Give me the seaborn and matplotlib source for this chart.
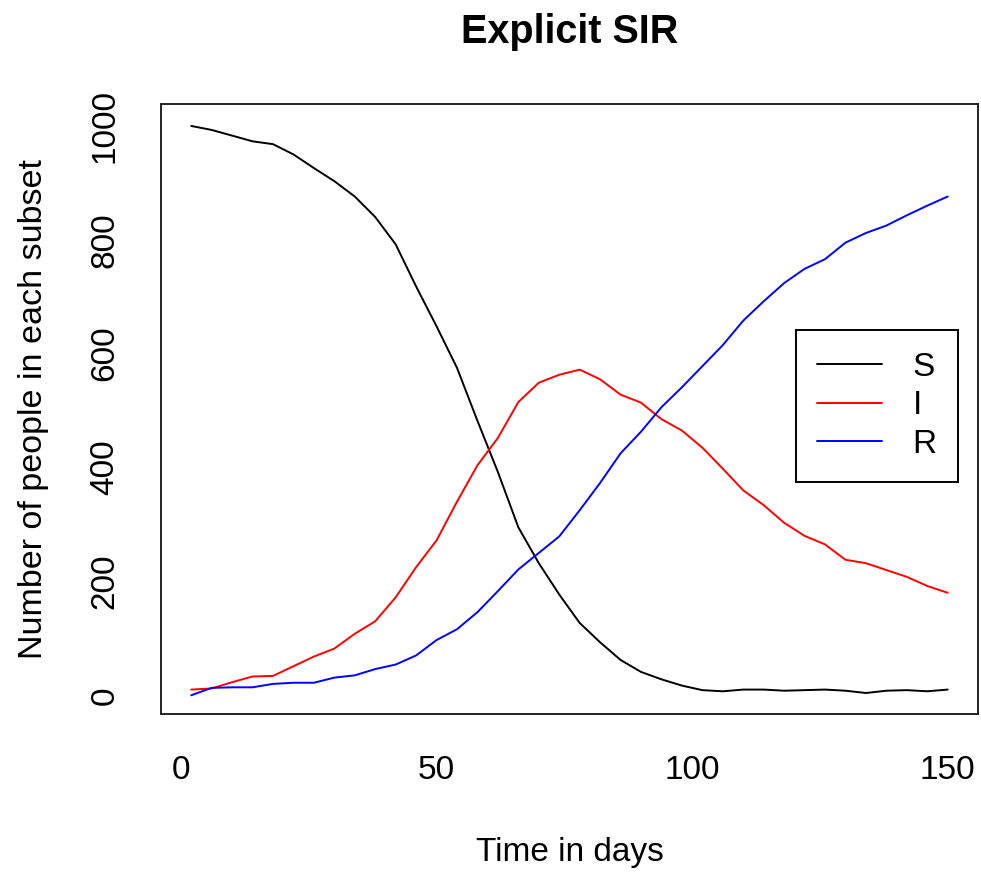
import matplotlib
matplotlib.use("Agg")
import matplotlib.pyplot as plt
import seaborn as sns
import pandas as pd

days = [2, 6, 10, 14, 18, 22, 26, 30, 34, 38, 42, 46, 50, 54, 58, 62, 66, 70, 74, 78,
        82, 86, 90, 94, 98, 102, 106, 110, 114, 118, 122, 126, 130, 134, 138, 142, 146, 150]
S = [1000, 993, 983, 973, 968, 950, 926, 903, 876, 840, 792, 718, 648, 575, 482, 392, 295, 232, 177, 127,
     93, 62, 41, 28, 17, 9, 7, 10, 10, 8, 9, 10, 8, 4, 8, 9, 7, 10]
I = [10, 12, 23, 33, 34, 51, 68, 82, 108, 130, 172, 225, 272, 340, 404, 452, 515, 549, 563, 572,
     555, 528, 514, 485, 465, 435, 398, 360, 334, 303, 280, 265, 238, 232, 220, 208, 192, 180]
R = [0, 13, 14, 14, 20, 22, 22, 31, 35, 46, 54, 70, 97, 116, 146, 183, 221, 250, 279, 325,
     373, 425, 463, 506, 541, 578, 615, 658, 692, 724, 749, 766, 795, 812, 825, 843, 860, 876]
groups = ["S", "I", "R"]
colors = {"S": "black", "I": "#FF0000", "R": "#0000FF"}
x_ticks = [0, 50, 100, 150]
y_ticks = [0, 200, 400, 600, 800, 1000]

df = pd.concat([
    pd.DataFrame({"day": days, "count": S, "compartment": "S"}),
    pd.DataFrame({"day": days, "count": I, "compartment": "I"}),
    pd.DataFrame({"day": days, "count": R, "compartment": "R"}),
], ignore_index=True)

sns.set_style("white")
plt.rcParams["font.family"] = ["Liberation Sans", "DejaVu Sans"]
plt.rcParams["font.size"] = 24
plt.rcParams["text.color"] = "black"
plt.rcParams["axes.labelcolor"] = "black"
plt.rcParams["xtick.color"] = "black"
plt.rcParams["ytick.color"] = "black"

fig = plt.figure(figsize=(9.81, 8.73), dpi=100)
ax = fig.add_axes([0.1641, 0.1818, 0.8328, 0.6991])

sns.lineplot(data=df, x="day", y="count", hue="compartment", hue_order=groups,
             palette=colors, linewidth=1.4, ax=ax, legend=True)

ax.set_xlim(-3.92, 155.92)
ax.set_ylim(-33.4, 1038.6)
ax.set_xticks(x_ticks)
ax.set_yticks(y_ticks)
ax.set_xticklabels([str(v) for v in x_ticks])
ax.set_yticklabels([str(v) for v in y_ticks], rotation=90, va="center")
ax.tick_params(axis="both", direction="out", length=16, width=1.2, color="black",
               labelsize=24, labelcolor="black", pad=13)
for sp in ax.spines.values():
    sp.set_visible(True)
    sp.set_color("#222222")
    sp.set_linewidth(1.4)

ax.set_title("Explicit SIR", fontsize=28.5, fontweight="bold", pad=44, color="black")
ax.set_xlabel("Time in days", fontsize=24, labelpad=37, color="black")
ax.set_ylabel("Number of people in each subset", fontsize=24.5, labelpad=29, color="black")

handles, labels = ax.get_legend_handles_labels()
leg = ax.legend(handles, labels, loc="upper left", bbox_to_anchor=(0.777, 0.6297),
                borderaxespad=0, fontsize=24, frameon=True, fancybox=False,
                borderpad=0.65, handlelength=1.95, handletextpad=0.9, labelspacing=0.23,
                title=None)
for t in leg.get_texts():
    t.set_color("black")
leg.get_frame().set_edgecolor("black")
leg.get_frame().set_linewidth(1.4)
leg.get_frame().set_facecolor("white")
leg.get_frame().set_alpha(1)

fig.savefig("out.png", dpi=100, facecolor="white")
